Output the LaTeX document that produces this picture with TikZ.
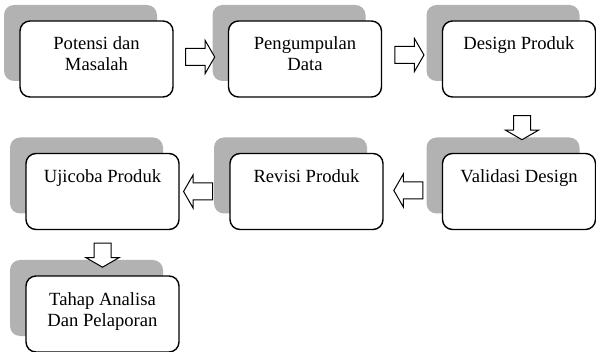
\documentclass[tikz,border=0pt]{standalone}
\usepackage{fontspec}
\setmainfont{Liberation Serif}
\usetikzlibrary{shapes.arrows,shadows,calc}

\tikzstyle{stage} = [draw, line width=1.4pt, rounded corners=10pt, fill=white,
	minimum width=153pt, minimum height=76pt, inner sep=0pt,
	text height=29pt, text depth=47pt, font=\fontsize{18.6}{21}\selectfont,
	drop shadow={shadow xshift=-16pt, shadow yshift=16pt, fill=black!30, opacity=1}]
\tikzstyle{flow} = [single arrow, draw, line width=1pt, fill=white,
	inner xsep=0pt, inner ysep=8pt,
	minimum height=29pt, minimum width=32pt, single arrow head extend=8pt,
	single arrow tip angle=120]

\begin{document}
\begin{tikzpicture}[x=1pt,y=-1pt]
	\useasboundingbox (0,0) rectangle (596,352);
	\node[stage] (s1) at (96.5,59) {\begin{tabular}[t]{c}Potensi dan\\Masalah\end{tabular}};
	\node[stage] (s2) at (305,59) {\begin{tabular}[t]{c}Pengumpulan\\Data\end{tabular}};
	\node[stage] (s3) at (519,59) {Design Produk};
	\node[stage] (s4) at (519,191.5) {Validasi Design};
	\node[stage] (s5) at (306.5,191.5) {Revisi Produk};
	\node[stage] (s6) at (102.5,191.5) {Ujicoba Produk};
	\node[stage] (s7) at (102.5,314) {\begin{tabular}[t]{c}Tahap Analisa\\Dan Pelaporan\end{tabular}};
	\node[flow] (f1) at ($(s1.east)!.5!(s2.west)+(-3,-2)$) {};
	\node[flow] (f2) at ($(s2.east)!.5!(s3.west)+(-5,-4)$) {};
	\node[flow,rotate=-90,minimum height=24pt] (f3) at ($(s3.south)!.5!(s4.north)+(3,0)$) {};
	\node[flow,rotate=180] (f4) at ($(s4.west)!.5!(s5.east)+(-2,-1)$) {};
	\node[flow,rotate=180] (f5) at ($(s5.west)!.5!(s6.east)+(-4,0)$) {};
	\node[flow,rotate=-90,minimum height=24pt] (f6) at ($(s6.south)!.5!(s7.north)$) {};
\end{tikzpicture}
\end{document}
